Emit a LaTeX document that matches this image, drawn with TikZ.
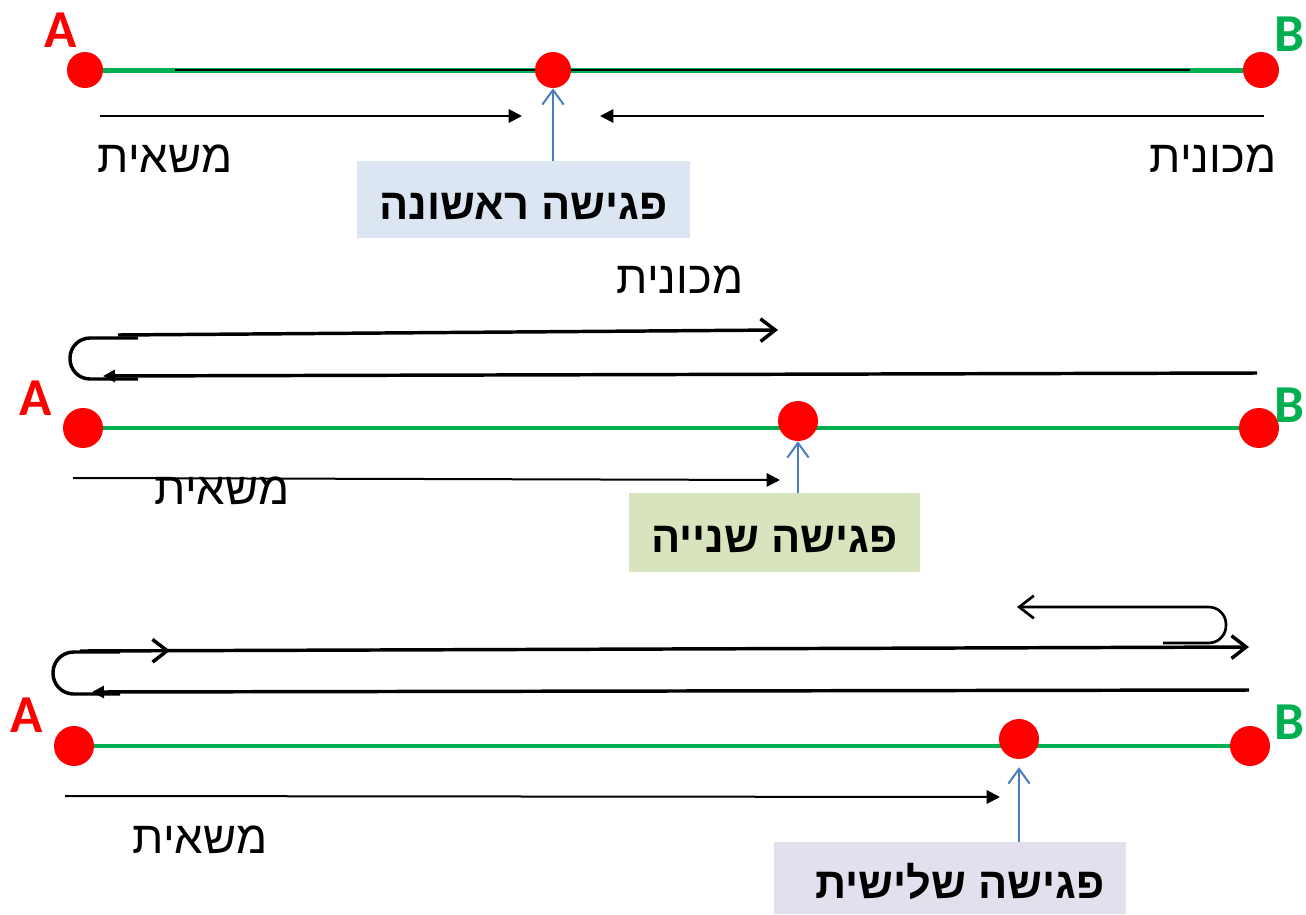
\documentclass[tikz,border=0pt]{standalone}
\usepackage{fontspec}
\setmainfont{Liberation Sans}
\newfontfamily\hebfont[Script=Hebrew]{Liberation Sans}
\newfontfamily\endfont{Carlito}
\TeXXeTstate=1
\usetikzlibrary{arrows.meta,decorations.markings}
\pgfdeclarelayer{background}
\pgfsetlayers{background,main}

\definecolor{trackgreen}{HTML}{00B050}
\definecolor{dotred}{HTML}{FF0000}
\definecolor{pointerblue}{HTML}{4A7EBB}
\definecolor{boxblue}{HTML}{DCE6F2}
\definecolor{boxgreen}{HTML}{D7E4BD}
\definecolor{boxlilac}{HTML}{E4DFEC}

\tikzset{
  endpoint/.style={circle, fill=dotred, inner sep=0pt, minimum size=27pt},
  bigpoint/.style={circle, fill=dotred, inner sep=0pt, minimum size=30pt},
  trackline/.style={draw=trackgreen, line width=3pt},
  motion/.style={draw=black, line width=1.5pt, -{Triangle[length=10pt,width=10pt]}},
  pathline/.style={draw=black, line width=2.6pt},
  fillhead/.style={-{Triangle[length=9pt,width=9pt]}},
  openhead/.style={-{Straight Barb[length=11pt,width=17pt]}},
  pointer/.style={draw=pointerblue, line width=1.5pt, -{Straight Barb[length=11pt,width=16pt]}},
  vehicle/.style={font=\hebfont\fontsize{34}{40}\selectfont, inner sep=0pt},
  meeting/.style={font=\hebfont\bfseries\fontsize{32.5}{38}\selectfont, inner sep=0pt,
                  text height=30pt, text depth=0pt},
  endlabel/.style={font=\endfont\bfseries\fontsize{40}{48}\selectfont, inner sep=0pt},
  midbarb/.style={postaction={decorate, decoration={markings,
      mark=at position #1 with {\arrow{Straight Barb[length=11pt,width=17pt]}}}}}
}

\begin{document}
\begin{tikzpicture}[x=0.75pt, y=-0.75pt]
\useasboundingbox (0,0) rectangle (1306,914);

% ---------- first meeting ----------
\node[endpoint] (a1) at (85,70) {};
\node[endpoint] (m1) at (553,70) {};
\node[endpoint] (b1) at (1261,70) {};
\node[endlabel, text=dotred] (la1) at (61,30) {A};
\node[endlabel, text=trackgreen] (lb1) at (1289,34) {B};
\coordinate (r1s) at (175,70);
\coordinate (r1e) at (1190,70);
\begin{pgfonlayer}{background}
  \draw[trackline, line width=3.75pt] (a1) -- (b1);
  \draw[line width=1.5pt] (r1s) -- (r1e);
\end{pgfonlayer}
\coordinate (t1s) at (100,116);
\coordinate (t1e) at (522,116);
\coordinate (c1s) at (1264,116);
\coordinate (c1e) at (600,116);
\draw[motion] (t1s) -- (t1e);
\draw[motion] (c1s) -- (c1e);
\node[vehicle] (truck1) at (165,159) {\beginR משאית\endR};
\node[vehicle] (car1) at (1213,159) {\beginR מכונית\endR};
\node[meeting, fill=boxblue, minimum width=249.75pt, minimum height=57.75pt] (box1) at (523.5,199.5) {\beginR פגישה ראשונה\endR};
\draw[pointer] (m1 |- box1.north) -- (m1.south);

% ---------- second meeting ----------
\node[bigpoint] (a2) at (83,428) {};
\node[bigpoint] (m2) at (798,421) {};
\node[bigpoint] (b2) at (1259,428) {};
\node[endlabel, text=dotred] (la2) at (36,398) {A};
\node[endlabel, text=trackgreen] (lb2) at (1289,405) {B};
\begin{pgfonlayer}{background}
  \draw[trackline] (a2) -- (b2);
\end{pgfonlayer}
\node[vehicle] (car2) at (680,280) {\beginR מכונית\endR};
\coordinate (u2s) at (118,335);
\coordinate (u2e) at (778,330);
\draw[pathline, openhead] (u2s) -- (u2e);
\draw[pathline, rounded corners=15pt] (138,338) -- (70,338) -- (70,379) -- (138,379);
\coordinate (w2s) at (1257,373);
\coordinate (w2e) at (103,376);
\draw[pathline, fillhead] (w2s) -- (w2e);
\coordinate (t2s) at (73,478);
\coordinate (t2e) at (780,480);
\draw[motion] (t2s) -- (t2e);
\node[vehicle] (truck2) at (222,491) {\beginR משאית\endR};
\node[meeting, fill=boxgreen, minimum width=218.25pt, minimum height=59.25pt] (box2) at (774.5,532.5) {\beginR פגישה שנייה\endR};
\draw[pointer] (m2 |- box2.north) -- (m2.south);

% ---------- third meeting ----------
\node[bigpoint] (a3) at (74,746) {};
\node[bigpoint] (m3) at (1019,739) {};
\node[bigpoint] (b3) at (1250,746) {};
\node[endlabel, text=dotred] (la3) at (27,715) {A};
\node[endlabel, text=trackgreen] (lb3) at (1289,722) {B};
\begin{pgfonlayer}{background}
  \draw[trackline] (a3) -- (b3);
\end{pgfonlayer}
\draw[pathline, line width=2pt, openhead, rounded corners=13pt]
  (1163,643) -- (1226,643) -- (1226,607) -- (1017,607);
\coordinate (u3s) at (80,651);
\coordinate (u3e) at (1249,647);
\draw[pathline, openhead, midbarb=0.077] (u3s) -- (u3e);
\draw[pathline, rounded corners=15.5pt] (120,652) -- (53,652) -- (53,694) -- (120,694);
\coordinate (w3s) at (1249,690);
\coordinate (w3e) at (92,692);
\draw[pathline, fillhead] (w3s) -- (w3e);
\coordinate (t3s) at (65,796);
\coordinate (t3e) at (1000,797);
\draw[motion] (t3s) -- (t3e);
\node[vehicle] (truck3) at (200,840) {\beginR משאית\endR};
\node[meeting, fill=boxlilac, minimum width=264pt, minimum height=54pt] (box3) at (950,878) {\hspace*{15pt}\beginR פגישה שלישית\endR};
\draw[pointer, shorten >=6pt] (m3 |- box3.north) -- (m3.south);
\end{tikzpicture}
\end{document}
